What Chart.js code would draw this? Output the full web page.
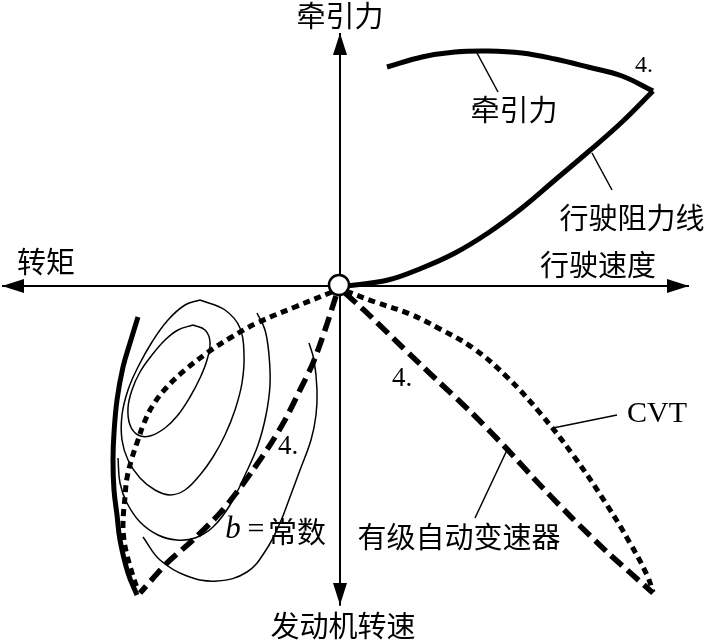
<!DOCTYPE html>
<html>
<head>
<meta charset="utf-8">
<script src="https://cdn.jsdelivr.net/npm/chart.js@4/dist/chart.umd.min.js"></script>
<style>
html,body{margin:0;padding:0;background:#fff;}
#wrap{width:710px;height:641px;position:relative;}
</style>
</head>
<body>
<div id="wrap"><canvas id="c" width="710" height="641"></canvas></div>
<script>
// ---- Data (plot units: x to the right, y downward) ----
const axisHorizX = [340, 2];      const axisHorizY = [286, 286];   // 转矩 (to the left)
const axisRightX = [340, 689];    const axisRightY = [286, 286];   // 行驶速度 (to the right)
const axisUpX = [340, 340];       const axisUpY = [286, 33];       // 牵引力 (up)
const axisDownX = [340, 340];     const axisDownY = [286, 605];    // 发动机转速 (down)

const tractionX = [387, 422, 455, 488, 522, 555, 588, 622, 653];
const tractionY = [67, 57, 52, 51, 53, 59, 67, 76, 91];

const resistX = [346, 388, 422, 455, 488, 522, 555, 588, 622, 653];
const resistY = [286, 280, 268, 253, 233, 208, 180, 152, 122, 91];

const cvtRightX = [346, 375, 410, 440, 473, 507, 540, 573, 607, 630, 647, 653];
const cvtRightY = [291, 302, 314, 329, 348, 377, 413, 455, 505, 543, 575, 592];

const atRightX = [345, 365, 395, 422, 440, 472, 507, 540, 573, 607, 653];
const atRightY = [293, 311, 340, 366, 383, 413, 449, 485, 519, 552, 593];

const atLeftX = [336, 325, 313, 300, 285, 270, 253, 237, 220, 193, 167, 140];
const atLeftY = [296, 330, 363, 390, 420, 445, 470, 492, 513, 540, 563, 593];

const cvtLeftX = [332, 295, 257, 230, 207, 185, 167, 153, 144, 138, 132, 127, 125, 123, 124, 127, 132, 137];
const cvtLeftY = [292, 307, 323, 338, 353, 370, 387, 405, 423, 440, 458, 478, 497, 523, 540, 555, 573, 588];

const envelopeX = [138, 130, 123, 117, 114, 113, 114, 117, 120, 128, 137];
const envelopeY = [317, 343, 367, 400, 433, 460, 490, 515, 540, 573, 595];

const contour1X = [193, 205, 210, 207, 200, 190, 178, 165, 150, 138, 130, 128, 132, 140, 152, 165, 178, 193];
const contour1Y = [325, 330, 342, 360, 378, 397, 415, 428, 436, 435, 425, 408, 390, 372, 355, 340, 330, 325];

const contour2X = [200, 225, 240, 244, 242, 235, 225, 213, 200, 185, 170, 155, 140, 128, 122, 122, 128, 138, 152, 168, 185, 200];
const contour2Y = [300, 310, 328, 355, 383, 410, 435, 457, 475, 490, 495, 490, 478, 460, 440, 415, 390, 367, 342, 320, 305, 300];

const contour3X = [257, 265, 269, 270, 266, 258, 245, 230, 213, 195, 177, 158, 140, 127, 120, 118];
const contour3Y = [313, 330, 355, 385, 415, 445, 475, 505, 527, 538, 540, 535, 522, 503, 483, 458];

const contour4X = [309, 314, 317, 316, 311, 300, 290, 280, 266, 247, 217, 187, 160, 143];
const contour4Y = [343, 360, 390, 415, 440, 470, 497, 523, 550, 572, 581, 576, 560, 537];

// leader lines
const leadTractionX = [477, 498];  const leadTractionY = [53, 92];
const leadResistX = [592, 612];    const leadResistY = [153, 190];
const leadCvtX = [553, 617];       const leadCvtY = [428, 415];
const leadAtX = [507, 475];        const leadAtY = [450, 518];

const originX = [339];  const originY = [285];

// text labels
const labelTexts = ['牵引力', '转矩', '行驶速度', '行驶阻力线', '牵引力', '4.', '4.', '4.', 'CVT', '有级自动变速器', 'b', '=', '常数', '发动机转速'];
const labelX =     [340, 46, 598, 632, 514, 644, 402, 288, 657, 459, 233, 256, 297, 343];
const labelY =     [16, 262, 265, 218, 110, 66, 379, 447, 414, 537, 530, 530, 532, 626];
const labelKind =  ['cjk', 'cjk', 'cjk', 'cjk', 'cjk', 'num1', 'num2', 'num2', 'serif', 'cjk', 'ital', 'serif', 'cjk', 'cjk'];

// ---- helpers ----
function pts(xs, ys) { return xs.map((x, i) => ({x: x, y: ys[i]})); }
function lineDs(xs, ys, width, dash, tension, extra) {
  return Object.assign({
    data: pts(xs, ys), showLine: true, borderColor: '#000', backgroundColor: '#000',
    borderWidth: width, borderDash: dash || [], tension: tension, pointRadius: 0,
    borderCapStyle: 'butt', borderJoinStyle: 'round', fill: false
  }, extra || {});
}

const fonts = {
  cjk: '29px "Noto Sans CJK SC", sans-serif',
  num1: '24px "Liberation Serif", serif',
  num2: '27px "Liberation Serif", serif',
  serif: '30px "Liberation Serif", serif',
  ital: 'italic 31px "Liberation Serif", serif'
};

const arrowPlugin = {
  id: 'arrows',
  afterDatasetsDraw(chart) {
    const ctx = chart.ctx;
    chart.data.datasets.forEach((ds, i) => {
      if (!ds.arrow) return;
      const meta = chart.getDatasetMeta(i);
      const n = meta.data.length;
      const p1 = meta.data[n - 2], p2 = meta.data[n - 1];
      const ang = Math.atan2(p2.y - p1.y, p2.x - p1.x);
      const L = 22, W = 7;
      ctx.save();
      ctx.translate(p2.x, p2.y);
      ctx.rotate(ang);
      ctx.beginPath();
      ctx.moveTo(0, 0);
      ctx.lineTo(-L, -W);
      ctx.lineTo(-L, W);
      ctx.closePath();
      ctx.fillStyle = '#000';
      ctx.fill();
      ctx.restore();
    });
  },
  afterDraw(chart) {
    const ctx = chart.ctx;
    const xs = chart.scales.x, ys = chart.scales.y;
    ctx.save();
    ctx.fillStyle = '#000';
    ctx.textAlign = 'center';
    ctx.textBaseline = 'middle';
    labelTexts.forEach((t, i) => {
      ctx.font = fonts[labelKind[i]];
      ctx.fillText(t, xs.getPixelForValue(labelX[i]), ys.getPixelForValue(labelY[i]));
    });
    ctx.restore();
  }
};

new Chart(document.getElementById('c'), {
  type: 'scatter',
  data: {
    datasets: [
      {data: pts(originX, originY), pointRadius: 10, pointStyle: 'circle', pointBackgroundColor: '#fff',
       pointBorderColor: '#000', pointBorderWidth: 2.5, showLine: false, order: -1},
      lineDs(axisHorizX, axisHorizY, 2, null, 0, {arrow: true}),
      lineDs(axisRightX, axisRightY, 2, null, 0, {arrow: true}),
      lineDs(axisUpX, axisUpY, 2, null, 0, {arrow: true}),
      lineDs(axisDownX, axisDownY, 2, null, 0, {arrow: true}),
      lineDs(tractionX, tractionY, 5, null, 0.4),
      lineDs(resistX, resistY, 5, null, 0.4),
      lineDs(cvtRightX, cvtRightY, 5, [7, 5], 0.4),
      lineDs(atRightX, atRightY, 5.5, [15, 7], 0.15),
      lineDs(atLeftX, atLeftY, 5.5, [15, 7], 0.3),
      lineDs(cvtLeftX, cvtLeftY, 5, [7, 5], 0.4),
      lineDs(envelopeX, envelopeY, 5, null, 0.4),
      lineDs(contour1X, contour1Y, 1.5, null, 0.4),
      lineDs(contour2X, contour2Y, 1.5, null, 0.4),
      lineDs(contour3X, contour3Y, 1.5, null, 0.4),
      lineDs(contour4X, contour4Y, 1.5, null, 0.4),
      lineDs(leadTractionX, leadTractionY, 1.5, null, 0),
      lineDs(leadResistX, leadResistY, 1.5, null, 0),
      lineDs(leadCvtX, leadCvtY, 1.5, null, 0),
      lineDs(leadAtX, leadAtY, 1.5, null, 0)
    ]
  },
  options: {
    responsive: false,
    devicePixelRatio: 1,
    animation: false,
    layout: {padding: 0, autoPadding: false},
    clip: false,
    plugins: {legend: {display: false}, tooltip: {enabled: false}},
    scales: {
      x: {type: 'linear', min: 0, max: 710, display: false},
      y: {type: 'linear', min: 0, max: 641, reverse: true, display: false}
    }
  },
  plugins: [arrowPlugin]
});
</script>
</body>
</html>
